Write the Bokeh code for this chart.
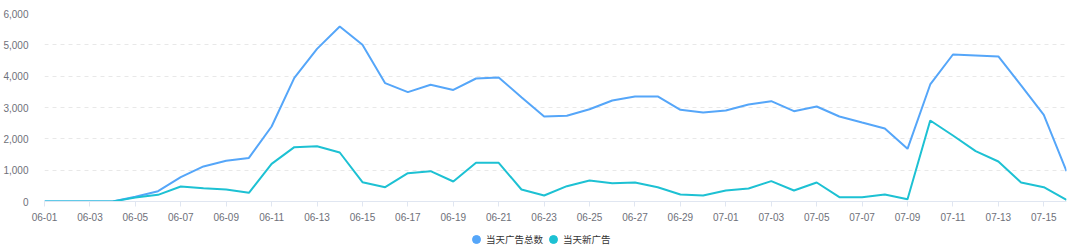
from bokeh.plotting import figure
from bokeh.layouts import column
from bokeh.models import (ColumnDataSource, FixedTicker, NumeralTickFormatter,
                          Legend, LegendItem, Range1d)
from bokeh.embed import file_html
from bokeh.resources import INLINE

dates = ["06-01", "06-02", "06-03", "06-04", "06-05", "06-06", "06-07", "06-08",
         "06-09", "06-10", "06-11", "06-12", "06-13", "06-14", "06-15", "06-16",
         "06-17", "06-18", "06-19", "06-20", "06-21", "06-22", "06-23", "06-24",
         "06-25", "06-26", "06-27", "06-28", "06-29", "06-30", "07-01", "07-02",
         "07-03", "07-04", "07-05", "07-06", "07-07", "07-08", "07-09", "07-10",
         "07-11", "07-12", "07-13", "07-14", "07-15", "07-16"]

total_ads = [0, 0, 0, 0, 150, 330, 777, 1120, 1298, 1390, 2394, 3947, 4872, 5585,
             5000, 3776, 3490, 3724, 3560, 3925, 3958, 3330, 2713, 2735, 2946, 3224,
             3352, 3352, 2925, 2840, 2904, 3096, 3202, 2883, 3032, 2713, 2521, 2330,
             1681, 3735, 4692, 4660, 4628, 3703, 2766, 968]

new_ads = [0, 0, 0, 0, 130, 213, 479, 426, 383, 277, 1202, 1734, 1766, 1564,
           617, 457, 904, 968, 638, 1234, 1234, 383, 191, 489, 670, 585,
           606, 457, 223, 191, 351, 415, 649, 351, 606, 138, 138, 223,
           74, 2585, 2106, 1606, 1277, 606, 457, 53]

series_names = ["当天广告总数", "当天新广告"]
colors = ["#55a6f9", "#1dc1d3"]
y_ticks = [0, 1000, 2000, 3000, 4000, 5000, 6000]

idx = list(range(len(dates)))
src = ColumnDataSource(dict(x=idx, total=total_ads, new=new_ads))

p = figure(width=1080, height=225, output_backend="svg", toolbar_location=None,
           x_range=Range1d(0, len(dates) - 1), y_range=Range1d(0, 6000),
           min_border_left=40, min_border_right=14, min_border_top=13,
           min_border_bottom=24)
p.outline_line_color = None
p.background_fill_color = "white"
p.border_fill_color = "white"

p.line("x", "total", source=src, line_color=colors[0], line_width=2)
p.line("x", "new", source=src, line_color=colors[1], line_width=2)

font = "Liberation Sans"
label_color = "#6e7079"

xa = p.xaxis[0]
xa.ticker = FixedTicker(ticks=idx[::2])
xa.major_label_overrides = {i: dates[i] for i in idx}
xa.axis_line_color = "#e0e6f1"
xa.major_tick_line_color = "#e0e6f1"
xa.major_tick_out = 5
xa.major_tick_in = 0
xa.minor_tick_line_color = None
xa.major_label_standoff = 6
xa.major_label_text_font = font
xa.major_label_text_font_size = "10px"
xa.major_label_text_color = label_color

ya = p.yaxis[0]
ya.ticker = FixedTicker(ticks=y_ticks)
ya.formatter = NumeralTickFormatter(format="0,0")
ya.axis_line_color = None
ya.major_tick_line_color = None
ya.minor_tick_line_color = None
ya.major_label_standoff = 10
ya.major_label_text_font = font
ya.major_label_text_font_size = "10px"
ya.major_label_text_color = label_color

p.xgrid.grid_line_color = None
p.ygrid.ticker = FixedTicker(ticks=y_ticks[1:])
p.ygrid.grid_line_color = "#e8e8e8"
p.ygrid.grid_line_dash = "4 4"

# legend strip below the chart (series markers kept out of its view range)
lg = figure(width=1080, height=24, output_backend="svg", toolbar_location=None,
            x_range=Range1d(1000, 1001), y_range=Range1d(-20000, -10000),
            x_axis_location=None, y_axis_location=None,
            min_border_left=0, min_border_right=0, min_border_top=0,
            min_border_bottom=0)
lg.grid.visible = False
lg.outline_line_color = None
d1 = lg.scatter("x", "total", source=src, marker="circle", color=colors[0], size=8)
d2 = lg.scatter("x", "new", source=src, marker="circle", color=colors[1], size=8)

legend = Legend(items=[LegendItem(label=series_names[0], renderers=[d1]),
                       LegendItem(label=series_names[1], renderers=[d2])],
                orientation="horizontal", location=(422, 0),
                glyph_width=20, glyph_height=20, label_standoff=0, spacing=0,
                padding=0, margin=0, background_fill_alpha=0,
                border_line_color=None,
                label_text_font="Noto Sans CJK SC", label_text_font_size="9.5px",
                label_text_color="#333333")
lg.add_layout(legend, "center")

layout = column(p, lg, spacing=0)
open("out.html", "w").write(file_html(layout, INLINE))
